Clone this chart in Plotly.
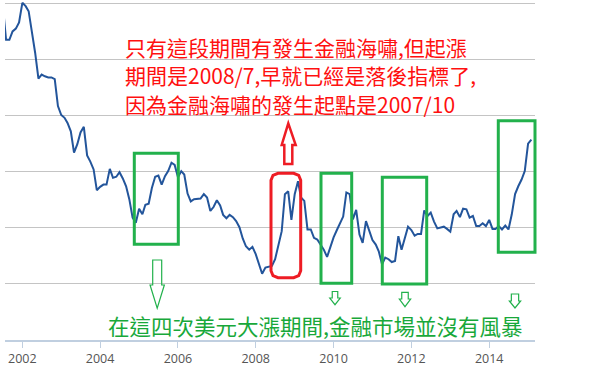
import plotly.graph_objects as go
import pandas as pd

# Monthly US dollar index values (Jul 2001 .. Feb 2015)
start_month = "2001-07-01"
usd_index = [
    119.7, 113.5, 113.5, 115.0, 115.5, 116.6,
    120.1, 119.5, 118.6, 115.1, 111.2, 106.6, 107.3, 107.0, 106.8, 106.8, 106.5, 101.7,
    100.1, 99.6, 98.7, 97.2, 93.4, 94.9, 97.0, 98.0, 92.9, 91.8, 90.4, 86.7,
    87.3, 87.7, 87.7, 90.5, 88.9, 89.1, 89.9, 88.8, 87.4, 85.1, 81.8, 80.9,
    83.4, 82.4, 84.1, 84.3, 87.1, 89.1, 89.3, 87.7, 89.2, 90.1, 91.6, 91.2,
    89.0, 90.1, 89.5, 86.1, 84.7, 85.1, 85.2, 85.2, 86.0, 85.4, 83.0, 83.7,
    84.9, 84.0, 82.3, 81.7, 82.3, 81.9, 81.2, 80.1, 78.1, 76.7, 76.1, 76.6,
    75.3, 73.6, 71.8, 72.9, 73.1, 73.2, 74.4, 76.9, 79.4, 86.0, 86.5, 81.4,
    86.0, 88.3, 85.4, 84.8, 79.7, 79.7, 78.2, 77.9, 77.0, 76.1, 74.8, 76.5,
    78.3, 79.6, 80.9, 82.0, 86.3, 86.0, 81.5, 83.2, 78.8, 77.3, 81.2, 79.4,
    77.8, 77.0, 75.8, 73.5, 74.7, 74.4, 73.9, 74.1, 78.5, 76.1, 78.2, 80.2,
    79.6, 78.6, 78.9, 78.9, 83.1, 82.1, 82.7, 81.1, 79.9, 80.1, 80.2, 79.8,
    79.3, 82.4, 83.0, 81.9, 83.4, 83.3, 81.8, 82.1, 80.3, 80.3, 80.8, 80.3,
    81.4, 79.8, 79.8, 80.3, 79.7, 80.4, 79.7, 82.4, 86.0, 87.4, 88.6, 90.1,
    95.0, 95.7,
]
dates = pd.date_range(start_month, periods=len(usd_index), freq="MS")

tick_years = ["2002", "2004", "2006", "2008", "2010", "2012", "2014"]

red_lines = [
    "只有這段期間有發生金融海嘯,但起漲",
    "期間是2008/7,早就已經是落後指標了,",
    "因為金融海嘯的發生起點是2007/10",
]
green_line = "在這四次美元大漲期間,金融市場並沒有風暴"

W, H = 600, 387
L, R, T, B = 5, 65, 0, 47
PW, PH = W - L - R, H - T - B


def px(x):
    return (x - L) / PW


def py(y):
    return (H - B - y) / PH


def poly(points):
    return "M " + " L ".join(f"{px(a):.5f},{py(b):.5f}" for a, b in points) + " Z"


RED = "#ee1c24"
GREEN = "#22b14c"

fig = go.Figure()
fig.add_trace(go.Scatter(
    x=dates, y=usd_index, mode="lines",
    line=dict(color="#23559b", width=2), hoverinfo="skip", showlegend=False,
))

shapes = []
for (x0, x1, y0, y1) in [(134.3, 178.3, 153.3, 244.3), (321, 351.7, 173.3, 283.3),
                         (382.3, 426.7, 177.3, 284), (498.3, 535, 120.7, 252.3)]:
    shapes.append(dict(type="rect", xref="paper", yref="paper",
                       x0=px(x0), x1=px(x1), y0=py(y1), y1=py(y0),
                       line=dict(color=GREEN, width=3)))

# red rounded rectangle
rx0, rx1, ry0, ry1, r = 271, 300.7, 173.3, 277.7, 7
rr = [(rx0 + r, ry0), (rx1 - r, ry0), (rx1 - 2, ry0 + 2), (rx1, ry0 + r), (rx1, ry1 - r),
      (rx1 - 2, ry1 - 2), (rx1 - r, ry1), (rx0 + r, ry1), (rx0 + 2, ry1 - 2), (rx0, ry1 - r),
      (rx0, ry0 + r), (rx0 + 2, ry0 + 2)]
shapes.append(dict(type="path", xref="paper", yref="paper", path=poly(rr),
                   line=dict(color=RED, width=3)))

# red hollow up arrow
up = [(288.3, 123.3), (295.7, 145), (292.3, 145), (292.3, 164), (284.3, 164), (284.3, 145), (281.7, 145)]
shapes.append(dict(type="path", xref="paper", yref="paper", path=poly(up),
                   line=dict(color=RED, width=2.5)))


def down_arrow(cx, sw, hw, ytop, yhead, ytip):
    return [(cx - sw / 2, ytop), (cx + sw / 2, ytop), (cx + sw / 2, yhead), (cx + hw / 2, yhead),
            (cx, ytip), (cx - hw / 2, yhead), (cx - sw / 2, yhead)]


for a in [down_arrow(157.2, 9, 14.3, 260, 285, 308.3),
          down_arrow(335, 5.5, 10.5, 291.5, 298, 304.7),
          down_arrow(405, 6.5, 11.3, 292.3, 299, 306.7),
          down_arrow(515, 7.3, 11.3, 294, 301, 308)]:
    shapes.append(dict(type="path", xref="paper", yref="paper", path=poly(a),
                       line=dict(color=GREEN, width=1.2)))

annotations = []
for i, (txt, yc) in enumerate(zip(red_lines, [47, 75, 104])):
    annotations.append(dict(text=txt, xref="paper", yref="paper", x=px(123), y=py(yc),
                            xanchor="left", yanchor="middle", showarrow=False,
                            font=dict(family="Noto Sans CJK TC", size=21, color="#ff1010")))
annotations.append(dict(text=green_line, xref="paper", yref="paper", x=px(106), y=py(325),
                        xanchor="left", yanchor="middle", showarrow=False,
                        font=dict(family="Noto Sans CJK TC", size=21.5, color="#18a83a")))

fig.update_layout(
    width=W, height=H, margin=dict(l=L, r=R, t=T, b=B),
    paper_bgcolor="white", plot_bgcolor="white",
    shapes=shapes, annotations=annotations,
    xaxis=dict(
        type="date", range=["2001-07-22", "2015-03-07"],
        tickvals=[f"{y}-01-01" for y in tick_years], ticktext=tick_years,
        showgrid=False, showline=True, linecolor="#c0cfe0", linewidth=1.5,
        ticks="outside", ticklen=6, tickcolor="#c0cfe0", tickwidth=1,
        tickfont=dict(family="Open Sans", size=12.5, color="#555555"), zeroline=False,
    ),
    yaxis=dict(
        range=[60, 120.6], dtick=10, tick0=60, showticklabels=False,
        showgrid=True, gridcolor="#c4c4c4", gridwidth=1.3, zeroline=False, showline=False,
    ),
)

fig.write_html("out.html", config={"displayModeBar": False},
               post_script="document.body.style.margin='0';document.body.style.padding='0';")
